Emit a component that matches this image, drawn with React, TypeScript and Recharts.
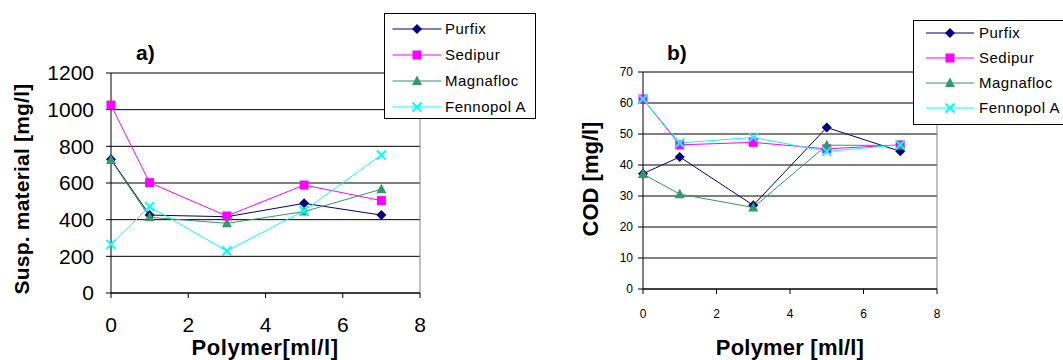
import React from "react";
import { LineChart, Line, XAxis, YAxis, CartesianGrid, ReferenceLine } from "recharts";

const FONT = '"Liberation Sans", Arial, Helvetica, sans-serif';

// polymer dose on the x axis (ml/l)
const polymerDose = [0, 1, 3, 5, 7];
const xTicks = [0, 2, 4, 6, 8];

const seriesNames = ["Purfix", "Sedipur", "Magnafloc", "Fennopol A"];

// a) suspended material [mg/l]
const suspPurfix = [729, 425, 416, 489, 425];
const suspSedipur = [1025, 602, 420, 589, 504];
const suspMagnafloc = [725, 413, 380, 444, 566];
const suspFennopol = [265, 471, 229, 449, 753];
const suspTicks = [0, 200, 400, 600, 800, 1000, 1200];

// b) COD [mg/l]
const codPurfix = [37.2, 42.6, 27.0, 52.1, 44.4];
const codSedipur = [61.3, 46.5, 47.3, 45.2, 46.5];
const codMagnafloc = [37.1, 30.6, 26.3, 46.4, 46.3];
const codFennopol = [61.3, 47.1, 48.9, 44.4, 46.5];
const codTicks = [0, 10, 20, 30, 40, 50, 60, 70];

const seriesStyle = [
  { key: "purfix", color: "#000080", shape: "diamond" },
  { key: "sedipur", color: "#FF00FF", shape: "square" },
  { key: "magnafloc", color: "#339966", shape: "triangle" },
  { key: "fennopol", color: "#00FFFF", shape: "x" },
];

const suspData = polymerDose.map((x, i) => ({
  x,
  purfix: suspPurfix[i],
  sedipur: suspSedipur[i],
  magnafloc: suspMagnafloc[i],
  fennopol: suspFennopol[i],
}));

const codData = polymerDose.map((x, i) => ({
  x,
  purfix: codPurfix[i],
  sedipur: codSedipur[i],
  magnafloc: codMagnafloc[i],
  fennopol: codFennopol[i],
}));

function Marker({ shape, color, cx, cy }: any) {
  if (shape === "diamond")
    return <polygon points={`${cx},${cy - 5} ${cx + 5},${cy} ${cx},${cy + 5} ${cx - 5},${cy}`} fill={color} />;
  if (shape === "square") return <rect x={cx - 4.5} y={cy - 4.5} width={9} height={9} fill={color} />;
  if (shape === "triangle")
    return <polygon points={`${cx},${cy - 5.5} ${cx + 5},${cy + 4} ${cx - 5},${cy + 4}`} fill={color} />;
  return (
    <path
      d={`M${cx - 4.5},${cy - 4.5}L${cx + 4.5},${cy + 4.5}M${cx + 4.5},${cy - 4.5}L${cx - 4.5},${cy + 4.5}`}
      stroke={color}
      strokeWidth={2}
    />
  );
}

function ChartLegend({ left, top, width, height, firstRow, rowGap, lineFrom, lineTo, textX }: any) {
  return (
    <div
      style={{
        position: "absolute",
        left,
        top,
        width,
        height,
        border: "1px solid #000",
        background: "#fff",
        boxSizing: "border-box",
      }}
    >
      {seriesStyle.map((s, i) => {
        const cy = firstRow + i * rowGap;
        const mid = (lineFrom + lineTo) / 2;
        return (
          <React.Fragment key={s.key}>
            <svg style={{ position: "absolute", left: 0, top: 0 }} width={width} height={height} overflow="visible">
              <line x1={lineFrom} x2={lineTo} y1={cy} y2={cy} stroke={s.color} strokeWidth={1} />
              <Marker shape={s.shape} color={s.color} cx={mid} cy={cy} />
            </svg>
            <div
              style={{
                position: "absolute",
                left: textX,
                top: cy - 10,
                lineHeight: "20px",
                fontFamily: FONT,
                fontSize: 15,
                letterSpacing: 0.5,
                color: "#000",
                whiteSpace: "nowrap",
              }}
            >
              {seriesNames[i]}
            </div>
          </React.Fragment>
        );
      })}
    </div>
  );
}

function SeriesLines() {
  return seriesStyle.map((s) => (
    <Line
      key={s.key}
      type="linear"
      dataKey={s.key}
      stroke={s.color}
      strokeWidth={1}
      isAnimationActive={false}
      dot={(p: any) => (
        <g key={`${s.key}-${p.index}`}>
          <Marker shape={s.shape} color={s.color} cx={p.cx} cy={p.cy} />
        </g>
      )}
      activeDot={false}
    />
  ));
}

export default function App() {
  const boldTitle = { fontFamily: FONT, fontWeight: 700, fill: "#000" } as const;
  return (
    <div
      style={{
        position: "absolute",
        left: 0,
        top: 0,
        width: 1063,
        height: 360,
        overflow: "hidden",
        background: "#fff",
      }}
    >
      {/* a) suspended material */}
      <div style={{ position: "absolute", left: 0, top: 0 }}>
        <LineChart width={440} height={360} data={suspData} margin={{ top: 73, right: 20, left: 41, bottom: 37 }}>
          <CartesianGrid horizontal vertical={false} stroke="#000" />
          <ReferenceLine y={1200} stroke="#808080" />
          <ReferenceLine x={8} stroke="#808080" />
          <XAxis
            type="number"
            dataKey="x"
            domain={[0, 8]}
            ticks={xTicks}
            height={30}
            tickSize={5}
            tickMargin={19}
            axisLine={{ stroke: "#000" }}
            tickLine={{ stroke: "#000" }}
            tick={{ fontSize: 21, fill: "#000", fontFamily: FONT }}
          />
          <YAxis
            domain={[0, 1200]}
            ticks={suspTicks}
            width={70}
            tickSize={5}
            tickMargin={12}
            axisLine={{ stroke: "#000" }}
            tickLine={{ stroke: "#000" }}
            tick={{ fontSize: 21, fill: "#000", fontFamily: FONT }}
          />
          {SeriesLines()}
        </LineChart>
      </div>

      {/* b) COD */}
      <div style={{ position: "absolute", left: 540, top: 0 }}>
        <LineChart width={420} height={360} data={codData} margin={{ top: 72, right: 23, left: 50, bottom: 41 }}>
          <CartesianGrid horizontal vertical={false} stroke="#000" />
          <ReferenceLine y={70} stroke="#808080" />
          <ReferenceLine x={8} stroke="#808080" />
          <XAxis
            type="number"
            dataKey="x"
            domain={[0, 8]}
            ticks={xTicks}
            height={30}
            tickSize={5}
            tickMargin={15}
            axisLine={{ stroke: "#000" }}
            tickLine={{ stroke: "#000" }}
            tick={{ fontSize: 12, fill: "#000", fontFamily: FONT }}
          />
          <YAxis
            domain={[0, 70]}
            ticks={codTicks}
            width={53}
            tickSize={5}
            tickMargin={5}
            axisLine={{ stroke: "#000" }}
            tickLine={{ stroke: "#000" }}
            tick={{ fontSize: 12, fill: "#000", fontFamily: FONT }}
          />
          {SeriesLines()}
        </LineChart>
      </div>

      {/* titles */}
      <svg style={{ position: "absolute", left: 0, top: 0, pointerEvents: "none" }} width={1063} height={360}>
        <text x={136} y={60} fontSize={21} {...boldTitle}>
          a)
        </text>
        <text x={667} y={60} fontSize={21} {...boldTitle}>
          b)
        </text>
        <text
          x={0}
          y={0}
          fontSize={21}
          textAnchor="middle"
          letterSpacing={0.2}
          transform="translate(28.5,189) rotate(-90)"
          {...boldTitle}
        >
          Susp. material [mg/l]
        </text>
        <text
          x={0}
          y={0}
          fontSize={22}
          textAnchor="middle"
          transform="translate(598.4,179) rotate(-90)"
          {...boldTitle}
        >
          COD [mg/l]
        </text>
        <text x={265} y={355} fontSize={22} textAnchor="middle" letterSpacing={0.6} {...boldTitle}>
          Polymer[ml/l]
        </text>
        <text x={790} y={355} fontSize={22} textAnchor="middle" letterSpacing={0.2} {...boldTitle}>
          Polymer [ml/l]
        </text>
      </svg>

      <ChartLegend
        left={384}
        top={13}
        width={152}
        height={106}
        firstRow={15}
        rowGap={26}
        lineFrom={7.5}
        lineTo={56.5}
        textX={60}
      />
      <ChartLegend
        left={913}
        top={20}
        width={160}
        height={105}
        firstRow={12}
        rowGap={25}
        lineFrom={12}
        lineTo={60}
        textX={65}
      />
    </div>
  );
}
